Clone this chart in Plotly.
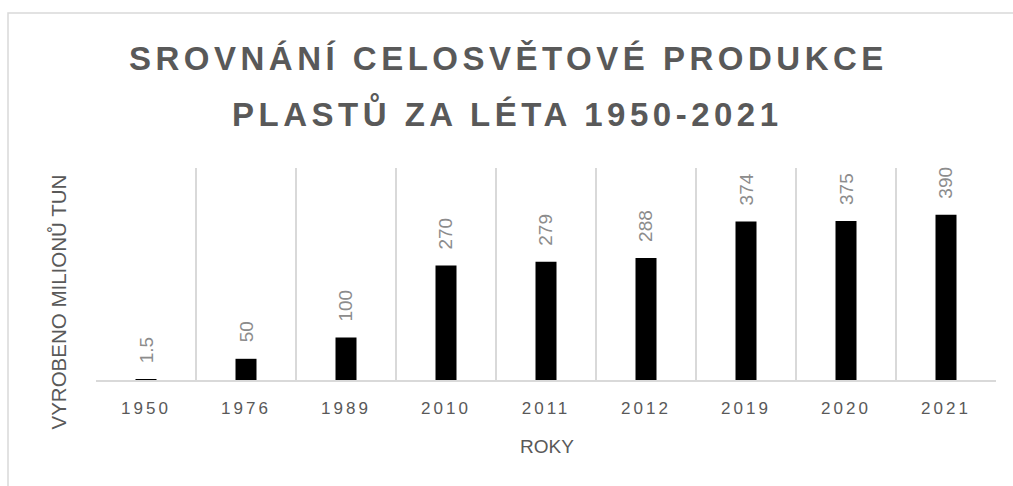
import plotly.graph_objects as go

# ---- data ----
years = ["1950", "1976", "1989", "2010", "2011", "2012", "2019", "2020", "2021"]
production = [1.5, 50, 100, 270, 279, 288, 374, 375, 390]
value_labels = ["1.5", "50", "100", "270", "279", "288", "374", "375", "390"]
title_lines = ["SROVNÁNÍ CELOSVĚTOVÉ PRODUKCE", "PLASTŮ ZA LÉTA 1950-2021"]
y_title = "VYROBENO MILIONŮ TUN"
x_title = "ROKY"

W, H = 1013, 486
ML, MR, MT, MB = 96, 17, 168, 106
PW = W - ML - MR
PH = H - MT - MB
FONT = "Liberation Sans, Arial, sans-serif"


def px_x(px):
    return (px - ML) / PW


def px_y(py):
    return (H - MB - py) / PH


def spaced(s, px):
    return '<span style="letter-spacing:%gpx">%s</span>' % (px, s)


fig = go.Figure()
fig.add_trace(go.Bar(
    x=years, y=production, width=0.21,
    marker=dict(color="#000000", line=dict(width=0)),
    hoverinfo="skip",
))

annotations = []
for i, (v, lab) in enumerate(zip(production, value_labels)):
    annotations.append(dict(
        x=i, y=v, xref="x", yref="y", text=lab, showarrow=False,
        textangle=-90, yanchor="bottom", xanchor="center", yshift=14,
        font=dict(family=FONT, size=19, color="#8c8c8c"),
    ))

title_font = dict(family=FONT, size=33, color="#595959", weight="bold")
annotations.append(dict(
    x=px_x(508), y=px_y(58), xref="paper", yref="paper", showarrow=False,
    text=spaced(title_lines[0], 4.5), xanchor="center", yanchor="middle",
    font=title_font,
))
annotations.append(dict(
    x=px_x(507), y=px_y(113), xref="paper", yref="paper", showarrow=False,
    text=spaced(title_lines[1], 4.5), xanchor="center", yanchor="middle",
    font=title_font,
))
annotations.append(dict(
    x=px_x(57.5), y=px_y(302), xref="paper", yref="paper", showarrow=False,
    text=y_title, textangle=-90, xanchor="center", yanchor="middle",
    font=dict(family=FONT, size=20.5, color="#595959"),
))
annotations.append(dict(
    x=px_x(547), y=px_y(446), xref="paper", yref="paper", showarrow=False,
    text=x_title, xanchor="center", yanchor="middle",
    font=dict(family=FONT, size=19, color="#595959"),
))

fig.update_layout(
    width=W, height=H,
    margin=dict(l=ML, r=MR, t=MT, b=MB, pad=0),
    paper_bgcolor="white", plot_bgcolor="white",
    showlegend=False,
    annotations=annotations,
    shapes=[dict(
        type="rect", xref="paper", yref="paper",
        x0=px_x(8), x1=px_x(W + 20), y0=px_y(H + 20), y1=px_y(13),
        line=dict(color="#d9d9d9", width=1.5), fillcolor="rgba(0,0,0,0)", layer="below",
    )],
    xaxis=dict(
        type="category", tickson="boundaries",
        tickvals=years, ticktext=[spaced(y, 3) for y in years],
        showgrid=True, gridcolor="#d9d9d9", gridwidth=1.5,
        showline=True, linecolor="#d9d9d9", linewidth=1.5,
        ticks="", ticklabelstandoff=12,
        tickfont=dict(family=FONT, size=17, color="#595959"),
        range=[-0.5, 8.5], fixedrange=True,
    ),
    yaxis=dict(
        range=[0, 500], showgrid=False, showticklabels=False, zeroline=False,
        showline=False, ticks="", fixedrange=True,
    ),
    bargap=0.79,
)

fig.write_html("out.html", config={"displayModeBar": False},
               post_script="document.body.style.margin='0';")
